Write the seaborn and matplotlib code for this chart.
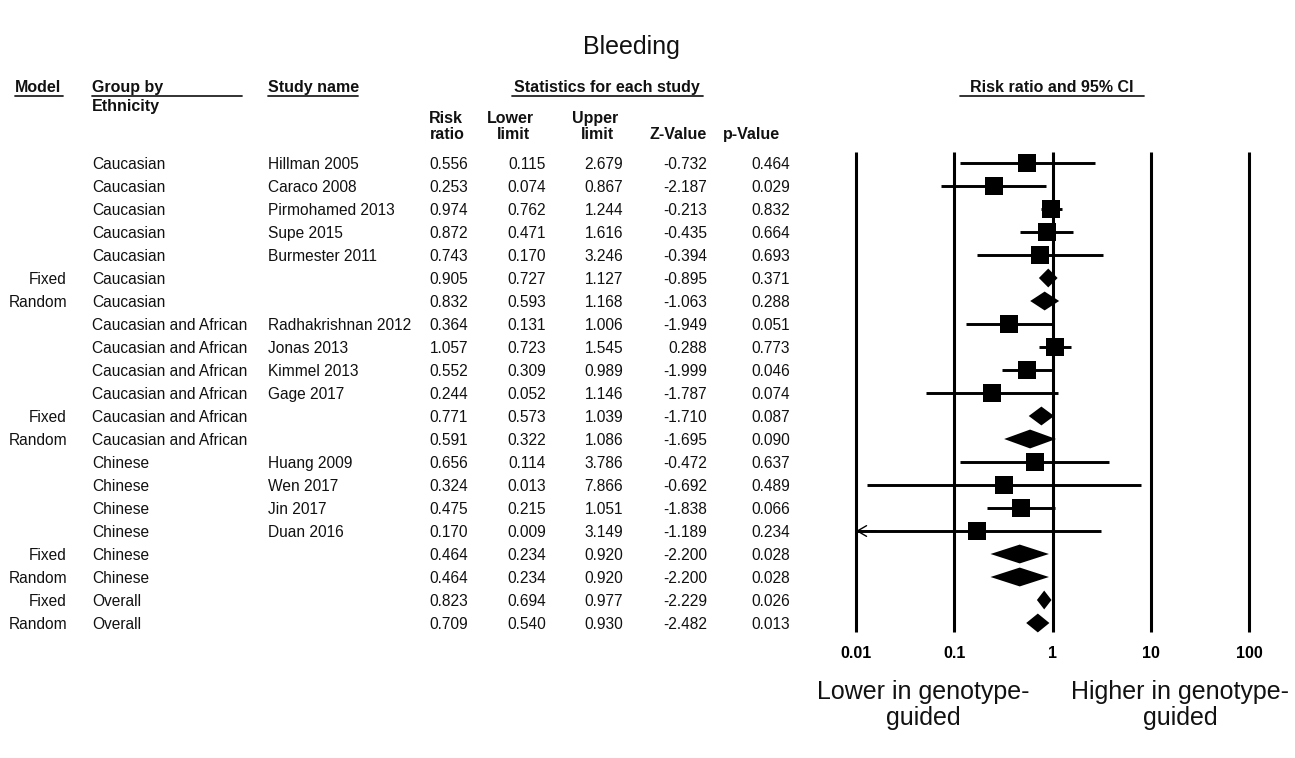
import numpy as np
import pandas as pd
import matplotlib
matplotlib.use("Agg")
import matplotlib.pyplot as plt
import matplotlib.transforms as mtransforms
from matplotlib.lines import Line2D
import seaborn as sns

# ---------------- data ----------------
models = ['', '', '', '', '', 'Fixed', 'Random', '', '', '', '', 'Fixed', 'Random',
          '', '', '', '', 'Fixed', 'Random', 'Fixed', 'Random']
groups = (['Caucasian'] * 7 + ['Caucasian and African'] * 6 + ['Chinese'] * 6
          + ['Overall'] * 2)
studies = ['Hillman 2005', 'Caraco 2008', 'Pirmohamed 2013', 'Supe 2015', 'Burmester 2011',
           '', '', 'Radhakrishnan 2012', 'Jonas 2013', 'Kimmel 2013', 'Gage 2017', '', '',
           'Huang 2009', 'Wen 2017', 'Jin 2017', 'Duan 2016', '', '', '', '']
risk_ratio = [0.556, 0.253, 0.974, 0.872, 0.743, 0.905, 0.832, 0.364, 1.057, 0.552, 0.244,
              0.771, 0.591, 0.656, 0.324, 0.475, 0.170, 0.464, 0.464, 0.823, 0.709]
lower_limit = [0.115, 0.074, 0.762, 0.471, 0.170, 0.727, 0.593, 0.131, 0.723, 0.309, 0.052,
               0.573, 0.322, 0.114, 0.013, 0.215, 0.009, 0.234, 0.234, 0.694, 0.540]
upper_limit = [2.679, 0.867, 1.244, 1.616, 3.246, 1.127, 1.168, 1.006, 1.545, 0.989, 1.146,
               1.039, 1.086, 3.786, 7.866, 1.051, 3.149, 0.920, 0.920, 0.977, 0.930]
z_values = [-0.732, -2.187, -0.213, -0.435, -0.394, -0.895, -1.063, -1.949, 0.288, -1.999,
            -1.787, -1.710, -1.695, -0.472, -0.692, -1.838, -1.189, -2.200, -2.200, -2.229,
            -2.482]
p_values = [0.464, 0.029, 0.832, 0.664, 0.693, 0.371, 0.288, 0.051, 0.773, 0.046, 0.074,
            0.087, 0.090, 0.637, 0.489, 0.066, 0.234, 0.028, 0.028, 0.026, 0.013]
axis_ticks = [0.01, 0.1, 1, 10, 100]
axis_tick_labels = ['0.01', '0.1', '1', '10', '100']

df = pd.DataFrame({
    'model': models, 'group': groups, 'study': studies,
    'rr': risk_ratio, 'll': lower_limit, 'ul': upper_limit,
    'z': z_values, 'p': p_values,
})
df['row'] = np.arange(len(df))
df['summary'] = df['model'] != ''

# ---------------- style ----------------
sns.set_theme(style="white")
plt.rcParams['font.family'] = ['Liberation Sans', 'DejaVu Sans']

W, H = 1295, 758
fig = plt.figure(figsize=(W / 100, H / 100), dpi=100)


def fx(px):
    return px / W


def fy(py):
    return 1 - py / H


# forest axes: 0.01 at x=856px, 100 at x=1249px; row i at y=163+23*i px
dec = (1249 - 856) / 4.0
ax_left, ax_right, ax_top, ax_bot = 836, 1269, 140, 640
ax = fig.add_axes([fx(ax_left), fy(ax_bot), (ax_right - ax_left) / W, (ax_bot - ax_top) / H])
ax.set_xscale('log')
ax.set_xlim(10 ** (-2 - (856 - ax_left) / dec), 10 ** (2 + (ax_right - 1249) / dec))
row_px = 23.0
ax.set_ylim((ax_bot - 163) / row_px, (ax_top - 163) / row_px)
for s in ax.spines.values():
    s.set_visible(False)
ax.grid(False)
ax.set_facecolor('none')

# vertical reference lines
ax.vlines(axis_ticks, (152 - 163) / row_px, (632 - 163) / row_px, color='black', lw=2.2)

xmin_show = axis_ticks[0]
studies_df = df[~df['summary']]
summ_df = df[df['summary']]

# CI lines for studies
for _, r in studies_df.iterrows():
    lo = max(r['ll'], xmin_show)
    ax.hlines(r['row'], lo, r['ul'], color='black', lw=2.1, zorder=2)
    if r['ll'] < xmin_show:
        ax.annotate('', xy=(xmin_show, r['row']), xytext=(xmin_show * 1.6, r['row']),
                    arrowprops=dict(arrowstyle='->,head_length=0.55,head_width=0.32',
                                    color='black', lw=1.0, shrinkA=0, shrinkB=0),
                    zorder=3)

# squares
sns.scatterplot(data=studies_df, x='rr', y='row', marker='s', s=175, color='black',
                edgecolor='black', linewidth=0, ax=ax, zorder=4, legend=False)

# diamonds for summaries
hh = 0.41
for _, r in summ_df.iterrows():
    i = r['row']
    ax.fill([r['ll'], r['rr'], r['ul'], r['rr']], [i, i - hh, i, i + hh],
            color='black', lw=0, zorder=4)

ax.set_xticks(axis_ticks)
ax.set_xticklabels(axis_tick_labels, fontsize=11.5, fontweight='bold')
ax.minorticks_off()
ax.tick_params(axis='x', length=0, pad=4, colors='black')
ax.set_yticks([])
ax.set_xlabel('')
ax.set_ylabel('')

# ---------------- table text ----------------
trans = mtransforms.blended_transform_factory(fig.transFigure, ax.transData)
fs = 11.2
tc = '#111111'
for _, r in df.iterrows():
    i = r['row']
    kw = dict(transform=trans, fontsize=fs, color=tc, va='center_baseline')
    if r['model']:
        fig.text(fx(67), i, r['model'], ha='right', **kw)
    fig.text(fx(92), i, r['group'], ha='left', **kw)
    if r['study']:
        fig.text(fx(268), i, r['study'], ha='left', **kw)
    fig.text(fx(468), i, f"{r['rr']:.3f}", ha='right', **kw)
    fig.text(fx(546), i, f"{r['ll']:.3f}", ha='right', **kw)
    fig.text(fx(623), i, f"{r['ul']:.3f}", ha='right', **kw)
    fig.text(fx(707), i, f"{r['z']:.3f}", ha='right', **kw)
    fig.text(fx(790), i, f"{r['p']:.3f}", ha='right', **kw)

# ---------------- headers ----------------
hfs = 11.5
hkw = dict(fontsize=hfs, fontweight='bold', color=tc, va='baseline')
fig.text(fx(15), fy(92), 'Model', ha='left', **hkw)
fig.text(fx(92), fy(92), 'Group by', ha='left', **hkw)
fig.text(fx(92), fy(111), 'Ethnicity', ha='left', **hkw)
fig.text(fx(268), fy(92), 'Study name', ha='left', **hkw)
fig.text(fx(607), fy(92), 'Statistics for each study', ha='center', **hkw)
fig.text(fx(1052), fy(92), 'Risk ratio and 95% CI', ha='center', **hkw)

fig.text(fx(446), fy(123), 'Risk', ha='center', **hkw)
fig.text(fx(447), fy(139), 'ratio', ha='center', **hkw)
fig.text(fx(510), fy(123), 'Lower', ha='center', **hkw)
fig.text(fx(513), fy(139), 'limit', ha='center', **hkw)
fig.text(fx(595), fy(123), 'Upper', ha='center', **hkw)
fig.text(fx(597), fy(139), 'limit', ha='center', **hkw)
fig.text(fx(678), fy(139), 'Z-Value', ha='center', **hkw)
fig.text(fx(751), fy(139), 'p-Value', ha='center', **hkw)

# underlines
for x0, x1 in [(15, 63), (92, 242), (268, 358), (512, 703), (960, 1144)]:
    fig.add_artist(Line2D([fx(x0), fx(x1)], [fy(95.5), fy(95.5)], color='#222222', lw=1.3))

# title
fig.text(fx(631), fy(47), 'Bleeding', ha='center', va='center', fontsize=18, color=tc)

# bottom labels
fig.text(fx(923), fy(705), 'Lower in genotype-\nguided', ha='center', va='center',
         multialignment='center', fontsize=18, color=tc, linespacing=1.1)
fig.text(fx(1180), fy(705), 'Higher in genotype-\nguided', ha='center', va='center',
         multialignment='center', fontsize=18, color=tc, linespacing=1.1)

fig.savefig('out.png', dpi=100)
